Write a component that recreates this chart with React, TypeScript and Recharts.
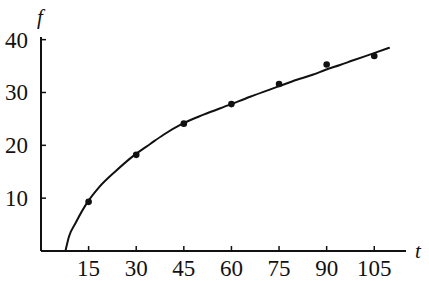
import React from "react";
import { ComposedChart, Line, Scatter, XAxis, YAxis } from "recharts";

const curveT = [7.7, 8.8, 10.9, 14.6, 18.2, 23.5, 29.3, 34.5, 38.6, 44.6, 51.2, 59.5, 65.9, 74.6, 80.6, 85.8, 89.7, 94.2, 98.4, 104.7, 109.9];
const curveF = [0, 2.7, 5.3, 9.2, 12.0, 15.1, 18.1, 20.3, 22.0, 24.1, 25.8, 27.7, 29.2, 31.1, 32.4, 33.4, 34.3, 35.2, 36.1, 37.4, 38.5];
const pointT = [15, 30, 45, 60, 75, 90, 105];
const pointF = [9.3, 18.2, 24.1, 27.8, 31.6, 35.3, 36.9];
const xTicks = [15, 30, 45, 60, 75, 90, 105];
const yTicks = [10, 20, 30, 40];

const curveData = curveT.map((t, i) => ({ t, f: curveF[i] }));
const pointData = pointT.map((t, i) => ({ t, f: pointF[i] }));

const INK = "#111";
const FONT = "'Liberation Serif', 'DejaVu Serif', serif";

const XTick = (props: any) => {
  const { x, y, payload } = props;
  return (
    <g>
      <line x1={x} x2={x} y1={y} y2={y - 5} stroke={INK} strokeWidth={1.5} />
      <text x={x} y={y + 25} textAnchor="middle" fontSize={23} fontFamily={FONT} fill={INK}>
        {payload.value}
      </text>
    </g>
  );
};

const YTick = (props: any) => {
  const { x, y, payload } = props;
  return (
    <g>
      <line x1={x} x2={x + 5} y1={y} y2={y} stroke={INK} strokeWidth={1.5} />
      <text x={x - 13} y={y + 8} textAnchor="end" fontSize={23} fontFamily={FONT} fill={INK}>
        {payload.value}
      </text>
    </g>
  );
};

export default function App() {
  return (
    <div style={{ position: "absolute", left: 0, top: 0, width: 429, height: 281, background: "#fff" }}>
      <ComposedChart
        width={429}
        height={281}
        margin={{ top: 37, right: 23, bottom: 0, left: 0 }}
      >
        <XAxis
          type="number"
          dataKey="t"
          domain={[0, 115]}
          ticks={xTicks}
          height={30}
          tickSize={0}
          tickMargin={0}
          tickLine={false}
          tick={<XTick />}
          axisLine={{ stroke: INK, strokeWidth: 2 }}
          allowDataOverflow
        />
        <YAxis
          type="number"
          dataKey="f"
          domain={[0, 40.5]}
          ticks={yTicks}
          width={41}
          tickSize={0}
          tickMargin={0}
          tickLine={false}
          tick={<YTick />}
          axisLine={{ stroke: INK, strokeWidth: 2 }}
          allowDataOverflow
        />
        <Line
          data={curveData}
          dataKey="f"
          type="monotone"
          stroke={INK}
          strokeWidth={2}
          dot={false}
          isAnimationActive={false}
        />
        <Scatter
          data={pointData}
          dataKey="f"
          fill={INK}
          shape={(p: any) => <circle cx={p.cx} cy={p.cy} r={3.3} fill={INK} />}
          isAnimationActive={false}
        />
      </ComposedChart>
      <svg width={429} height={281} style={{ position: "absolute", left: 0, top: 0, pointerEvents: "none" }}>
        <text x={37} y={24} fontSize={21} fontStyle="italic" fontFamily={FONT} fill={INK}>f</text>
        <text x={415} y={258} fontSize={21} fontStyle="italic" fontFamily={FONT} fill={INK}>t</text>
      </svg>
    </div>
  );
}
